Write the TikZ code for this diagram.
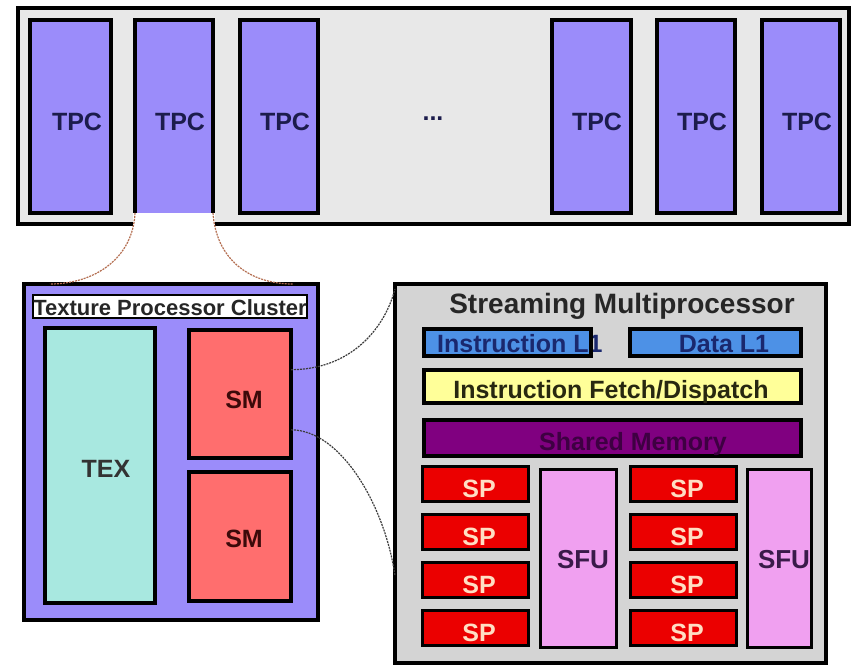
\documentclass[tikz,border=0pt]{standalone}
\usepackage{fontspec}
\setmainfont{Liberation Sans}
\usetikzlibrary{calc}
\definecolor{framegrey}{RGB}{232,232,232}
\definecolor{tpcblue}{RGB}{155,140,250}
\definecolor{tpcink}{RGB}{28,28,76}
\definecolor{texcyan}{RGB}{168,232,224}
\definecolor{smred}{RGB}{255,110,110}
\definecolor{smink}{RGB}{60,10,10}
\definecolor{smgrey}{RGB}{212,212,212}
\definecolor{cacheblue}{RGB}{77,145,230}
\definecolor{cacheink}{RGB}{26,40,110}
\definecolor{fetchyellow}{RGB}{255,255,153}
\definecolor{fetchink}{RGB}{40,40,16}
\definecolor{shmpurple}{RGB}{128,0,128}
\definecolor{shmink}{RGB}{62,0,66}
\definecolor{spred}{RGB}{235,0,0}
\definecolor{spink}{RGB}{255,222,195}
\definecolor{sfupink}{RGB}{240,160,240}
\definecolor{sfuink}{RGB}{58,26,74}
\definecolor{zoombrown}{RGB}{180,110,80}
\definecolor{zoomdark}{RGB}{60,60,60}
\newcommand\lblfont[1]{\fontsize{#1}{#1}\selectfont\bfseries}
\begin{document}
\begin{tikzpicture}[x=1pt,y=-1pt,
  unit/.style={draw=black, line width=3.5pt, inner sep=0pt, outer sep=0pt, rectangle},
  tpcbox/.style={unit, fill=tpcblue, minimum height=193pt},
  lbl/.style={inner sep=0pt, anchor=base, font=\lblfont{25}},
  spbox/.style={unit, line width=3pt, fill=spred, minimum width=106pt, minimum height=35pt},
  splbl/.style={lbl, text=spink},
  zoomA/.style={draw=zoombrown, line width=1.2pt, dash pattern=on 2pt off 1pt},
  zoomB/.style={draw=zoomdark, line width=1.2pt, dash pattern=on 2pt off 1pt}]
\useasboundingbox (0,0) rectangle (855,667);
\fill[white] (0,0) rectangle (855,667);

% GPU: row of texture processor clusters
\node[unit, fill=framegrey, minimum width=831pt, minimum height=216pt] (gpu) at (433.5,116) {};
\node[tpcbox, minimum width=81pt] (t1) at (70.5,116.5) {};
\node[tpcbox, draw=none, minimum width=78pt] (t2) at (174,116.5) {};
\draw[line width=3.5pt] (t2.south west) -- (t2.north west) -- (t2.north east) -- (t2.south east);
\node[tpcbox, minimum width=78pt] (t3) at (279,116.5) {};
\node[tpcbox, minimum width=79pt] (t4) at (591.5,116.5) {};
\node[tpcbox, minimum width=78pt] (t5) at (696,116.5) {};
\node[tpcbox, minimum width=78pt] (t6) at (801,116.5) {};
\node[lbl, text=tpcink] (t1l) at (77,130) {TPC};
\node[lbl, text=tpcink] (t2l) at (180,130) {TPC};
\node[lbl, text=tpcink] (t3l) at (285,130) {TPC};
\node[lbl, text=tpcink] (t4l) at (597,130) {TPC};
\node[lbl, text=tpcink] (t5l) at (702,130) {TPC};
\node[lbl, text=tpcink] (t6l) at (807,130) {TPC};
\node[lbl, text=tpcink] (dots) at (433,120) {...};
% opening below the expanded cluster
\fill[white] ($(t2.south west)+(-1.75,0)$) rectangle ($(t2.south east)+(1.75,15)$);

% Texture processor cluster
\node[unit, fill=tpcblue, minimum width=294pt, minimum height=336pt] (cl) at (171,452) {};
\node[draw=black, line width=1.2pt, fill=white, inner sep=0pt, minimum width=274pt, minimum height=23pt] (clt) at (170,306.5) {};
\node[lbl, font=\lblfont{22}, text=black!85] (cltl) at (170,315) {Texture Processor Cluster};
\node[unit, fill=texcyan, minimum width=110pt, minimum height=275pt] (tex) at (100,465.5) {};
\node[lbl, text=black!80] (texl) at (106,477) {TEX};
\node[unit, fill=smred, minimum width=102pt, minimum height=128pt] (sm1) at (240,394) {};
\node[unit, fill=smred, minimum width=102pt, minimum height=129pt] (sm2) at (240,536.5) {};
\node[lbl, text=smink] (sm1l) at (244,408) {SM};
\node[lbl, text=smink] (sm2l) at (244,547) {SM};

% zoom lines from the chosen TPC to the cluster
\coordinate (cA) at ($(cl.north west)+(26,0)$);
\coordinate (cB) at ($(cl.north east)+(-25,0)$);
\draw[zoomA] (t2.south west) .. controls ($(t2.south west)+(-2,45)$) and ($(cA)+(45,0)$) .. (cA);
\draw[zoomA] (t2.south east) .. controls ($(t2.south east)+(3,45)$) and ($(cB)+(-45,0)$) .. (cB);

% Streaming multiprocessor
\node[unit, fill=smgrey, minimum width=431pt, minimum height=379pt] (smb) at (610.5,473.5) {};
\node[lbl, font=\lblfont{28}, text=black!85] (smbl) at (622,313) {Streaming Multiprocessor};
\node[unit, draw=none, fill=cacheblue, minimum width=167pt, minimum height=27pt] (il1) at (507.5,342.5) {};
\node[lbl, anchor=base west, text=cacheink] (il1l) at (437,352) {Instruction L1};
\draw[line width=3.5pt] (il1.south west) rectangle (il1.north east);
\node[unit, fill=cacheblue, minimum width=171pt, minimum height=27pt] (dl1) at (715.5,342.5) {};
\node[lbl, text=cacheink] (dl1l) at (724,352) {Data L1};
\node[unit, fill=fetchyellow, minimum width=377pt, minimum height=33pt] (ifd) at (612.5,386.5) {};
\node[lbl, text=fetchink] (ifdl) at (611,398) {Instruction Fetch/Dispatch};
\node[unit, fill=shmpurple, minimum width=377pt, minimum height=36pt] (shm) at (612.5,438) {};
\node[lbl, text=shmink] (shml) at (633,450) {Shared Memory};

\node[spbox] (spa1) at (475,484) {};
\node[spbox] (spa2) at (475,532) {};
\node[spbox] (spa3) at (475,580) {};
\node[spbox] (spa4) at (475,628) {};
\node[spbox] (spb1) at (683,484) {};
\node[spbox] (spb2) at (683,532) {};
\node[spbox] (spb3) at (683,580) {};
\node[spbox] (spb4) at (683,628) {};
\node[splbl] (spa1l) at (479,497) {SP};
\node[splbl] (spa2l) at (479,545) {SP};
\node[splbl] (spa3l) at (479,593) {SP};
\node[splbl] (spa4l) at (479,641) {SP};
\node[splbl] (spb1l) at (687,497) {SP};
\node[splbl] (spb2l) at (687,545) {SP};
\node[splbl] (spb3l) at (687,593) {SP};
\node[splbl] (spb4l) at (687,641) {SP};
\node[unit, line width=3pt, fill=sfupink, minimum width=76pt, minimum height=178pt] (sfu1) at (578,558) {};
\node[unit, line width=3pt, fill=sfupink, minimum width=64pt, minimum height=178pt] (sfu2) at (779,558) {};
\node[lbl, font=\lblfont{26}, text=sfuink] (sfu1l) at (583,568) {SFU};
\node[lbl, font=\lblfont{26}, text=sfuink] (sfu2l) at (784,568) {SFU};

% zoom lines from the upper SM to the multiprocessor
\coordinate (sA) at ($(sm1.north east)!0.31!(sm1.south east)$);
\coordinate (sB) at ($(sm1.north east)!0.78!(sm1.south east)$);
\coordinate (mA) at ($(smb.north west)+(0,5)$);
\coordinate (mB) at ($(smb.north west)!0.77!(smb.south west)$);
\draw[zoomB] (sA) .. controls ($(sA)+(55,0)$) and ($(mA)+(-12,45)$) .. (mA);
\draw[zoomB] (sB) .. controls ($(sB)+(50,0)$) and ($(mB)+(-10,-70)$) .. (mB);
\end{tikzpicture}
\end{document}
